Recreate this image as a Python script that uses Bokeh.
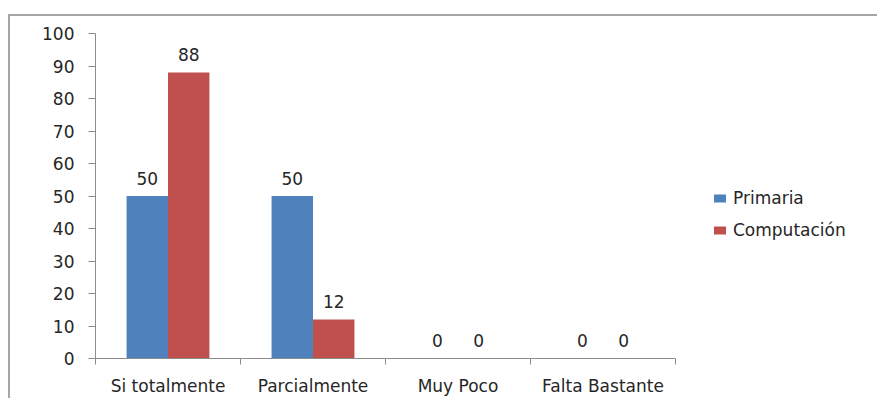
from bokeh.plotting import figure
from bokeh.models import ColumnDataSource, FixedTicker, Range1d, Legend, LegendItem
from bokeh.core.properties import value
from bokeh.embed import file_html
from bokeh.resources import INLINE

categories = ["Si totalmente", "Parcialmente", "Muy Poco", "Falta Bastante"]
primaria = [50, 50, 0, 0]
computacion = [88, 12, 0, 0]
series_names = ["Primaria", "Computación"]
colors = ["#4F81BD", "#C0504D"]
y_ticks = [0, 10, 20, 30, 40, 50, 60, 70, 80, 90, 100]

FONT = "DejaVu Sans"
FS = "17px"
TXT = "#262626"
AX = "#8C8C8C"

bar_w = 1 / 3.5
n = len(categories)
centers = [i + 0.5 for i in range(n)]

p = figure(frame_width=580, frame_height=325,
           min_border_left=85, min_border_right=192,
           min_border_top=17, min_border_bottom=36,
           x_range=Range1d(0, n), y_range=Range1d(0, 100),
           output_backend="svg", toolbar_location=None)
p.styles = {"border-top": "2px solid #A6A6A6", "border-left": "2px solid #A6A6A6",
            "margin-top": "14px", "margin-left": "8px"}
p.outline_line_color = None
p.xgrid.visible = False
p.ygrid.visible = False
p.background_fill_color = "white"
p.border_fill_color = "white"

renderers = []
for k, (vals, name, col) in enumerate(zip([primaria, computacion], series_names, colors)):
    off = (k - 0.5) * bar_w
    src = ColumnDataSource(dict(x=[c + off for c in centers], top=vals,
                                lab=[str(v) for v in vals]))
    r = p.vbar(x="x", top="top", bottom=0, width=bar_w, source=src,
               fill_color=col, line_color=None)
    renderers.append(r)
    p.text(x="x", y="top", text="lab", source=src, text_align="center",
           text_baseline="middle", y_offset=-18, text_font=value(FONT),
           text_font_size=FS, text_color=TXT)

# x axis
xa = p.xaxis[0]
xa.ticker = FixedTicker(ticks=centers, minor_ticks=list(range(n + 1)))
xa.major_label_overrides = {c: lab for c, lab in zip(centers, categories)}
xa.major_tick_out = 0
xa.major_tick_in = 0
xa.minor_tick_out = 6
xa.minor_tick_in = 0
xa.minor_tick_line_color = AX
xa.axis_line_color = AX
xa.major_label_standoff = 11
xa.major_label_text_font = FONT
xa.major_label_text_font_size = FS
xa.major_label_text_color = TXT

# y axis
ya = p.yaxis[0]
ya.ticker = FixedTicker(ticks=y_ticks, minor_ticks=[])
ya.major_tick_out = 7
ya.major_tick_in = 0
ya.major_tick_line_color = AX
ya.axis_line_color = AX
ya.major_label_standoff = 14
ya.major_label_text_font = FONT
ya.major_label_text_font_size = FS
ya.major_label_text_color = TXT

legend = Legend(items=[LegendItem(label=nm, renderers=[r]) for nm, r in zip(series_names, renderers)],
                location=(37, 118), padding=0, margin=0, spacing=12,
                glyph_width=15, glyph_height=10, label_height=20, label_standoff=6,
                label_text_font=FONT, label_text_font_size=FS, label_text_color=TXT,
                border_line_color=None, background_fill_alpha=0)
p.add_layout(legend, "right")

open("out.html", "w").write(file_html(p, INLINE))
